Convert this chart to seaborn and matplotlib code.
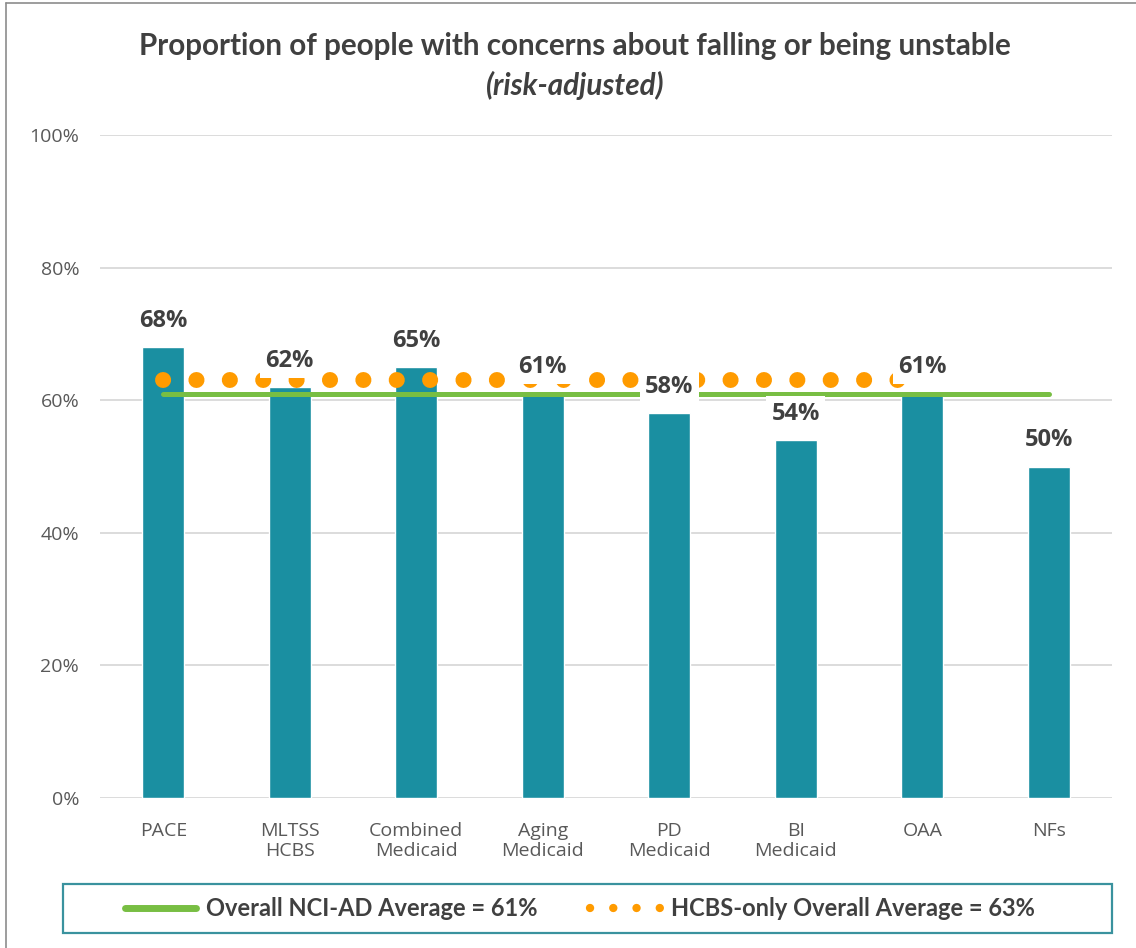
import pandas as pd
import seaborn as sns
import matplotlib.pyplot as plt
from matplotlib.lines import Line2D
from matplotlib.patches import Rectangle

# Chart data
categories = ["PACE", "MLTSS\nHCBS", "Combined\nMedicaid", "Aging\nMedicaid",
              "PD\nMedicaid", "BI\nMedicaid", "OAA", "NFs"]
values = [68, 62, 65, 61, 58, 54, 61, 50]
overall_avg = 61
hcbs_avg = 63
hcbs_groups = 7  # HCBS-only line covers every group except NFs
y_ticks = [0, 20, 40, 60, 80, 100]

BAR = "#1A8FA1"
GREEN = "#78BE43"
ORANGE = "#FF9B00"
DARK = "#404040"
TICK = "#595959"


def main():
    sns.set_theme(style="white")
    plt.rcParams['font.family'] = ['Open Sans', 'DejaVu Sans']

    fig = plt.figure(figsize=(11.36, 9.48), dpi=100)
    ax = fig.add_axes([100 / 1136, 1 - 798 / 948, 1012 / 1136, 663 / 948])

    df = pd.DataFrame({"group": categories, "value": values})
    sns.barplot(data=df, x="group", y="value", color=BAR, width=0.33,
                saturation=1, ax=ax, zorder=2)

    # Average lines
    pos = list(range(len(categories)))
    ax.plot(pos, [overall_avg] * len(pos), color=GREEN, lw=3.6,
            solid_capstyle="round", zorder=3)
    ax.plot(pos[:hcbs_groups], [hcbs_avg] * hcbs_groups, color=ORANGE, lw=11.5,
            linestyle=(0, (0.01, 2.08)), dash_capstyle="round", zorder=4)

    # Value labels with white boxes
    for i, v in enumerate(values):
        ax.annotate(f"{v}%", (i, v), xytext=(0, 19), textcoords="offset points",
                    ha="center", va="center", fontsize=17, fontweight="bold",
                    color=DARK, zorder=5,
                    bbox=dict(boxstyle="square,pad=0.22", fc="white", ec="none"))

    ax.set_xlim(-0.5, len(categories) - 0.5)
    ax.set_ylim(0, 100)
    ax.set_yticks(y_ticks)
    ax.set_yticklabels([f"{t}%" for t in y_ticks])
    ax.yaxis.grid(True, color="#D9D9D9", lw=1.3)
    ax.set_axisbelow(True)
    for s in ax.spines.values():
        s.set_visible(False)
    ax.tick_params(axis="y", length=0, pad=15, labelsize=14, labelcolor=TICK)
    ax.tick_params(axis="x", length=0, pad=17, labelsize=14, labelcolor=TICK)
    ax.set_xlabel("")
    ax.set_ylabel("")

    # Title
    fig.text(575 / 1136, 1 - 46 / 948,
             "Proportion of people with concerns about falling or being unstable",
             ha="center", va="center", fontsize=21.3, fontweight="bold",
             color=DARK, family=["Lato", "DejaVu Sans"])
    fig.text(575 / 1136, 1 - 85 / 948, "(risk-adjusted)", ha="center",
             va="center", fontsize=21.3, fontweight="bold", style="italic",
             color=DARK, family=["Lato", "DejaVu Sans"])

    # Chart border (left and top)
    fig.add_artist(Line2D([6 / 1136, 6 / 1136], [0, 1 - 3 / 948],
                          transform=fig.transFigure, color="#8C8C8C", lw=1.2))
    fig.add_artist(Line2D([6 / 1136, 1], [1 - 3 / 948, 1 - 3 / 948],
                          transform=fig.transFigure, color="#8C8C8C", lw=1.2))

    # Legend box
    fig.add_artist(Rectangle((63 / 1136, 1 - 933 / 948), 1049 / 1136, 49 / 948,
                             transform=fig.transFigure, fill=False,
                             ec="#3A929E", lw=1.6))
    handles = [
        Line2D([], [], color=GREEN, lw=5, solid_capstyle="round"),
        Line2D([], [], color=ORANGE, lw=6, linestyle=(0, (0.01, 2.78)),
               dash_capstyle="round"),
    ]
    labels = [f"Overall NCI-AD Average = {overall_avg}%",
              f"HCBS-only Overall Average = {hcbs_avg}%"]
    fig.legend(handles, labels, loc="center", ncol=2, frameon=False,
               bbox_to_anchor=(580 / 1136, 1 - 909 / 948), handlelength=3.0,
               handletextpad=0.4, columnspacing=2.25,
               prop=dict(family=["Lato", "DejaVu Sans"], weight="bold", size=17),
               labelcolor=DARK)

    fig.savefig("out.png", dpi=100)


if __name__ == '__main__':
    main()
